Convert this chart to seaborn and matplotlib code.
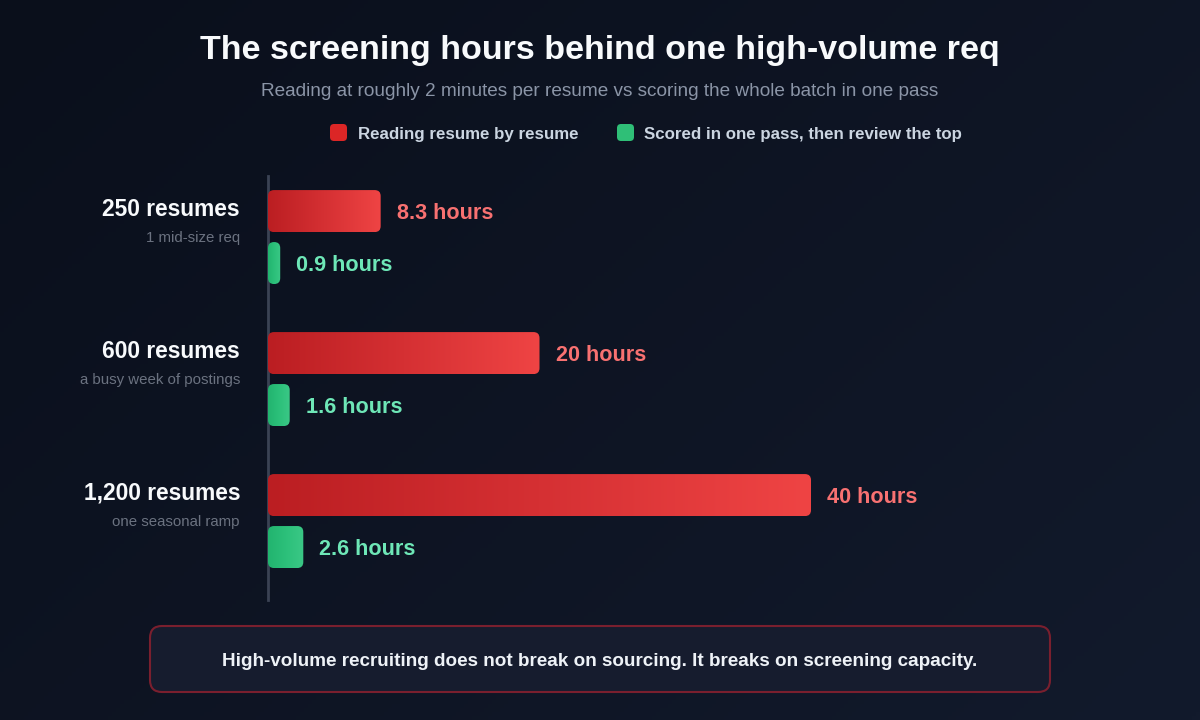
import numpy as np
import pandas as pd
import matplotlib
matplotlib.use("Agg")
import matplotlib.pyplot as plt
import seaborn as sns
from matplotlib.patches import FancyBboxPatch
from matplotlib.colors import LinearSegmentedColormap

# ---------------- data ----------------
categories = ["250 resumes", "600 resumes", "1,200 resumes"]
subtitles = ["1 mid-size req", "a busy week of postings", "one seasonal ramp"]
series = ["Reading resume by resume", "Scored in one pass, then review the top"]
manual_hours = [8.3, 20, 40]
scored_hours = [0.9, 1.6, 2.6]
manual_labels = ["8.3 hours", "20 hours", "40 hours"]
scored_labels = ["0.9 hours", "1.6 hours", "2.6 hours"]

title = "The screening hours behind one high-volume req"
subtitle = "Reading at roughly 2 minutes per resume vs scoring the whole batch in one pass"
callout = "High-volume recruiting does not break on sourcing. It breaks on screening capacity."

df = pd.DataFrame({
    "group": categories * 2,
    "series": [series[0]] * 3 + [series[1]] * 3,
    "hours": manual_hours + scored_hours,
})

# ---------------- style ----------------
sns.set_theme(style="dark")
plt.rcParams["font.family"] = ["Liberation Sans", "DejaVu Sans"]

W, H = 1200, 720
fig = plt.figure(figsize=(12, 7.2), dpi=100)

# background gradient
bg = fig.add_axes([0, 0, 1, 1], zorder=-10)
gx, gy = np.meshgrid(np.linspace(0, 1, 300), np.linspace(0, 1, 180))
g = (gx * 0.6 + gy * 0.4)
bg_cmap = LinearSegmentedColormap.from_list("bg", ["#0a0f1b", "#121a2c"])
bg.imshow(g, cmap=bg_cmap, aspect="auto", extent=[0, W, H, 0])
bg.set_xlim(0, W); bg.set_ylim(H, 0)
bg.axis("off")

# main axes in pixel layout
x0_px, x1_px = 268, 1100
ytop_px, ybot_px = 176, 600
px_per_hour = 13.575
ax = fig.add_axes([x0_px / W, 1 - ybot_px / H, (x1_px - x0_px) / W, (ybot_px - ytop_px) / H])
ax.set_facecolor("none")

colors = {series[0]: "#dc2626", series[1]: "#22c55e"}
sns.barplot(data=df, x="hours", y="group", hue="series", hue_order=series,
            order=categories, orient="h", width=0.732, gap=0.192,
            palette=colors, legend=False, ax=ax, saturation=1)

ax.set_xlim(0, (x1_px - x0_px) / px_per_hour)
ax.set_ylim(2.556, -0.43)
ax.set_xlabel(""); ax.set_ylabel("")
ax.set_xticks([]); ax.set_yticks([])
ax.grid(False)
for s in ["top", "right", "bottom"]:
    ax.spines[s].set_visible(False)
ax.spines["left"].set_color("#3b4354")
ax.spines["left"].set_linewidth(2)

# overlay for rounded gradient bars, titles, legend, callout (pixel coordinates)
ov = fig.add_axes([0, 0, 1, 1], zorder=5)
ov.set_xlim(0, W); ov.set_ylim(H, 0)
ov.axis("off")
ov.patch.set_alpha(0)

grad = {
    series[0]: LinearSegmentedColormap.from_list("r", ["#bb1e22", "#d53033", "#ef4444"]),
    series[1]: LinearSegmentedColormap.from_list("g", ["#22b46f", "#2cc07a", "#3bc886"]),
}
label_colors = {series[0]: "#f87171", series[1]: "#6ee7b7"}
all_labels = {series[0]: manual_labels, series[1]: scored_labels}

fig.canvas.draw()
to_px = lambda xy: (ax.transData.transform(xy)[0], H - ax.transData.transform(xy)[1])

for cont, s in zip(ax.containers, series):
    for bar, lab in zip(cont.patches, all_labels[s]):
        x, y = bar.get_x(), bar.get_y()
        w, h = bar.get_width(), bar.get_height()
        bar.set_visible(False)
        (px0, py0) = to_px((x, y))
        (px1, py1) = to_px((x + w, y + h))
        left, right = min(px0, px1), max(px0, px1)
        top, bot = min(py0, py1), max(py0, py1)
        r = min(6, (right - left) / 2)
        fb = FancyBboxPatch((left, top), right - left, bot - top,
                            boxstyle=f"round,pad=0,rounding_size={r}",
                            facecolor="none", edgecolor="none", zorder=3)
        ov.add_patch(fb)
        img = ov.imshow(np.linspace(0, 1, 256).reshape(1, -1), cmap=grad[s],
                        aspect="auto", extent=[left, right, bot, top], zorder=3,
                        interpolation="bilinear")
        img.set_clip_path(fb)
        ax.annotate(lab, xy=(x + w, y + h / 2), xytext=(16, -2),
                    textcoords="offset pixels", ha="left", va="center",
                    fontsize=15.6, fontweight="bold", color=label_colors[s])

ov.set_xlim(0, W); ov.set_ylim(H, 0)

for i, (c, sub) in enumerate(zip(categories, subtitles)):
    ax.annotate(c, xy=(0, i), xytext=(-28, 28), textcoords="offset pixels",
                ha="right", va="center", fontsize=16.4, fontweight="bold",
                color="#f8fafc", annotation_clip=False)
    ax.annotate(sub, xy=(0, i), xytext=(-28, -1), textcoords="offset pixels",
                ha="right", va="center", fontsize=10.8, color="#6b7280",
                annotation_clip=False)

ov.text(600, 51, title, ha="center", va="center", fontsize=24.5,
        fontweight="bold", color="#f8fafc")
ov.text(600, 92, subtitle, ha="center", va="center", fontsize=13.7,
        color="#8b95a7")

leg_items = [(330, 358, series[0], "#dc2626"), (617, 644, series[1], "#2fbf77")]
for sx, tx, s, col in leg_items:
    ov.add_patch(FancyBboxPatch((sx, 124), 17, 17,
                                boxstyle="round,pad=0,rounding_size=4",
                                facecolor=col, edgecolor="none"))
    ov.text(tx, 134, s, ha="left", va="center", fontsize=12.2,
            fontweight="bold", color="#cbd5e1")

ov.add_patch(FancyBboxPatch((150, 626), 900, 66,
                            boxstyle="round,pad=0,rounding_size=12",
                            facecolor="#161c2e", edgecolor="#7a1f2e",
                            linewidth=1.5))
ov.text(600, 662, callout, ha="center", va="center", fontsize=13.6,
        fontweight="bold", color="#eef2f7")

fig.savefig("out.png", dpi=100, facecolor="#0b1020")
